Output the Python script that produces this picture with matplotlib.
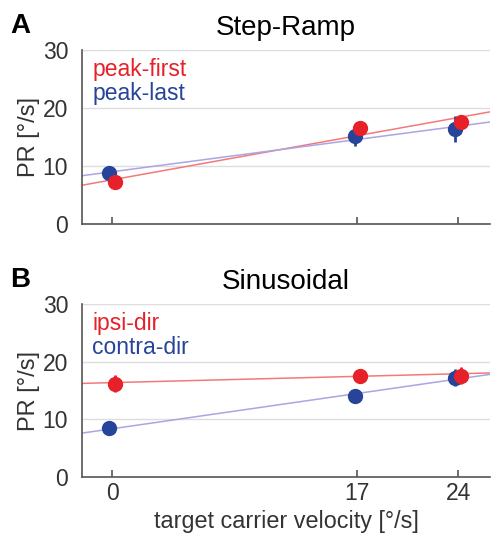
import numpy as np
import matplotlib
matplotlib.use("Agg")
from matplotlib import pyplot as plt

plt.rcParams['font.family'] = ['Liberation Sans', 'DejaVu Sans']

velocity = [0, 17, 24]
xticks = [0, 17, 24]

# Step-Ramp
sr_first = [7.3, 16.5, 17.6]
sr_first_err = [0.5, 1.0, 1.0]
sr_last = [8.85, 15.2, 16.4]
sr_last_err = [0.5, 1.8, 2.2]
sr_first_fit = [0.447, 7.62]   # slope, intercept
sr_last_fit = [0.327, 9.01]

# Sinusoidal
sin_ipsi = [16.2, 17.6, 17.6]
sin_ipsi_err = [1.5, 1.2, 1.5]
sin_contra = [8.5, 14.0, 17.2]
sin_contra_err = [1.2, 1.0, 1.5]
sin_ipsi_fit = [0.064, 16.37]
sin_contra_fit = [0.36, 8.37]

RED = '#e62129'
BLUE = '#26449a'
RED_L = '#f27a7a'
BLUE_L = '#a9a6e3'
GRAY = '#555555'

fig = plt.figure(figsize=(4.92, 5.34), dpi=100)
axA = fig.add_axes([0.1667, 0.5805, 0.8293, 0.326])
axB = fig.add_axes([0.1667, 0.1067, 0.8293, 0.324])

def panel(ax, ya, ea, yb, eb, fa, fb, title, labels, letter):
    xl = np.array([-2.1, 26.2])
    ax.plot(xl, fa[0] * xl + fa[1], color=RED_L, lw=1.1, zorder=2)
    ax.plot(xl, fb[0] * xl + fb[1], color=BLUE_L, lw=1.1, zorder=2)
    xv = np.array(velocity, dtype=float)
    ax.errorbar(xv - 0.2, yb, yerr=eb, fmt='o', color=BLUE, ms=10, elinewidth=2,
                capsize=0, zorder=3)
    ax.errorbar(xv + 0.2, ya, yerr=ea, fmt='o', color=RED, ms=10, elinewidth=2,
                capsize=0, zorder=4)
    ax.set_xlim(-2.1, 26.2)
    ax.set_ylim(0, 30)
    ax.set_yticks([0, 10, 20, 30])
    ax.set_xticks(xticks)
    ax.grid(axis='y', color='#dddddd', lw=1)
    ax.set_axisbelow(True)
    for s in ['top', 'right']:
        ax.spines[s].set_visible(False)
    for s in ['left', 'bottom']:
        ax.spines[s].set_color(GRAY)
        ax.spines[s].set_linewidth(1.2)
    ax.tick_params(direction='in', length=5, colors=GRAY, labelcolor='#333333',
                   labelsize=16.5, width=1.2)
    ax.tick_params(axis='y', length=0, pad=10)
    ax.set_ylabel('PR [°/s]', fontsize=17, color='#333333', labelpad=2)
    ax.set_title(title, fontsize=20, pad=11)
    ax.text(0.025, 0.89, labels[0], color=RED, fontsize=16.5, transform=ax.transAxes,
            va='center')
    ax.text(0.025, 0.75, labels[1], color=BLUE, fontsize=16.5, transform=ax.transAxes,
            va='center')
    ax.text(-0.175, 1.14, letter, fontsize=20, fontweight='bold',
            transform=ax.transAxes, va='center')

panel(axA, sr_first, sr_first_err, sr_last, sr_last_err, sr_first_fit, sr_last_fit,
      'Step-Ramp', ['peak-first', 'peak-last'], 'A')
panel(axB, sin_ipsi, sin_ipsi_err, sin_contra, sin_contra_err, sin_ipsi_fit,
      sin_contra_fit, 'Sinusoidal', ['ipsi-dir', 'contra-dir'], 'B')

axA.tick_params(axis='x', labelbottom=False)
axB.set_xlabel('target carrier velocity [°/s]', fontsize=16.8, color='#333333',
               labelpad=4)

fig.savefig('out.png', dpi=100)
